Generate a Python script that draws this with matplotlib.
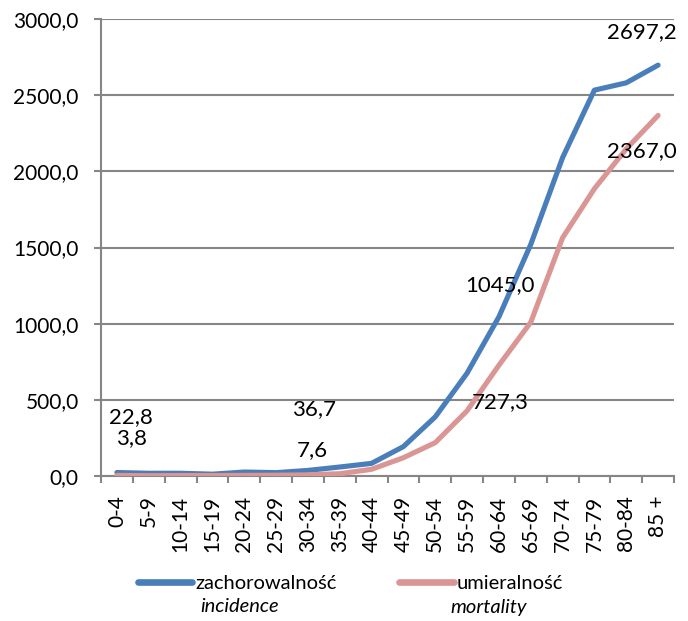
import matplotlib
matplotlib.use("Agg")
import matplotlib.pyplot as plt
from matplotlib.lines import Line2D

categories = ["0-4", "5-9", "10-14", "15-19", "20-24", "25-29", "30-34", "35-39",
              "40-44", "45-49", "50-54", "55-59", "60-64", "65-69", "70-74",
              "75-79", "80-84", "85 +"]
incidence = [22.8, 18, 18, 12, 26, 22, 36.7, 59, 83, 193, 388, 675, 1045.0,
             1520, 2090, 2533, 2581, 2697.2]
mortality = [3.8, 2, 3, 3, 4, 5, 7.6, 15, 44, 120, 219, 428, 727.3,
             1009, 1564, 1886, 2147, 2367.0]
yticks = [0, 500, 1000, 1500, 2000, 2500, 3000]

# labelled points: index -> offset in pixels
inc_labels = {0: (14, 55), 6: (6, 61), 12: (1, 32), 17: (-16, 33)}
mor_labels = {0: (15, 37), 6: (4, 25), 12: (1, -37), 17: (-16, -36)}

FONT = "Lato"
plt.rcParams['font.family'] = [FONT, 'DejaVu Sans']

BLUE = "#4A7EBB"
PINK = "#DA9694"
GRID = "#868686"

fig = plt.figure(figsize=(6.88, 6.21), dpi=100)
ax = fig.add_axes([101/688, 1-476/621, (674-101)/688, (476-19)/621])

x = list(range(len(categories)))
ax.plot(x, incidence, color=BLUE, lw=3.7, solid_capstyle='round', solid_joinstyle='round', zorder=3)
ax.plot(x, mortality, color=PINK, lw=3.7, solid_capstyle='round', solid_joinstyle='round', zorder=3)

def fmt(v):
    return f"{v:.1f}".replace(".", ",")

for i, (dx, dy) in inc_labels.items():
    ax.annotate(fmt(incidence[i]), (x[i], incidence[i]), xytext=(dx, dy),
                textcoords='offset pixels', ha='center', va='center', fontsize=16, zorder=5)
for i, (dx, dy) in mor_labels.items():
    ax.annotate(fmt(mortality[i]), (x[i], mortality[i]), xytext=(dx, dy),
                textcoords='offset pixels', ha='center', va='center', fontsize=16, zorder=5)

ax.set_xlim(-0.5, len(categories) - 0.5)
ax.set_ylim(0, 3000)
ax.set_yticks(yticks)
ax.set_yticklabels([fmt(v) for v in yticks], fontsize=15)
ax.set_xticks(x)
ax.set_xticklabels(categories, rotation=90, fontsize=15)
ax.set_xticks([i - 0.5 for i in range(len(categories) + 1)], minor=True)
ax.tick_params(axis='x', which='major', length=0, pad=14)
ax.tick_params(axis='x', which='minor', length=5, width=1.5, color=GRID, direction='out')
ax.tick_params(axis='y', length=5, width=1.5, color=GRID, pad=11)
ax.grid(axis='y', color=GRID, lw=1.5)
ax.set_axisbelow(True)
for s in ['top', 'right']:
    ax.spines[s].set_visible(False)
for s in ['left', 'bottom']:
    ax.spines[s].set_color(GRID)
    ax.spines[s].set_linewidth(1.5)

handles = [Line2D([], [], color=BLUE, lw=4.8, solid_capstyle='round'),
           Line2D([], [], color=PINK, lw=4.8, solid_capstyle='round')]
leg = fig.legend(handles, ["zachorowalność", "umieralność"], ncol=2,
                 loc='center left', bbox_to_anchor=(138/688, 1-583/621),
                 frameon=False, fontsize=14.5, handlelength=2.7, handletextpad=0.15,
                 columnspacing=3.1, borderaxespad=0, borderpad=0)
fig.text(200/688, 1-607/621, "incidence", fontsize=14.5, style='italic', va='center', ha='left')
fig.text(450/688, 1-607/621, "mortality", fontsize=14.5, style='italic', va='center', ha='left')

fig.savefig("out.png", dpi=100)
